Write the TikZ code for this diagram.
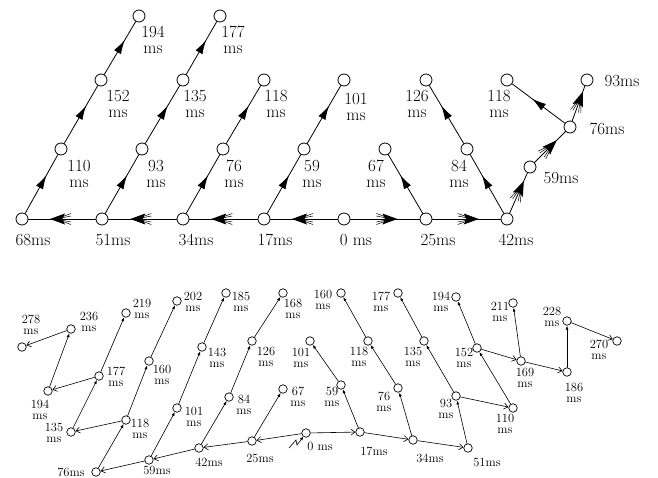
\documentclass[tikz,border=0pt]{standalone}
\usepackage{tikz}
\usetikzlibrary{arrows.meta,decorations.markings}

\begin{document}
\begin{tikzpicture}[x=1pt,y=-1pt,line cap=round,
 tnode/.style={circle,draw,line width=.8pt,minimum size=12pt,inner sep=0pt},
 bnode/.style={circle,draw,line width=.7pt,minimum size=8.5pt,inner sep=0pt},
 tlab/.style={font=\fontsize{17}{16.5}\selectfont,align=center,inner sep=0pt},
 blab/.style={font=\fontsize{12.5}{11}\selectfont,align=center,inner sep=0pt},
 one/.style={line width=.8pt,postaction=decorate,decoration={markings,
  mark=at position #1 with {\arrow{Latex[length=14pt,width=8pt]}}}},
 two/.style={line width=.8pt,postaction=decorate,decoration={markings,
  mark=at position #1 with {
   \draw[line width=.5pt] (-21pt,5.5pt) -- (-6pt,0pt) -- (-21pt,-5.5pt)
    (-21pt,3pt) -- (-6pt,0pt) -- (-21pt,-3pt);
   \fill (0pt,0pt) -- (-15pt,5.5pt) -- (-12.5pt,0pt) -- (-15pt,-5.5pt) -- cycle;}}},
 rise/.style={line width=.6pt,-{Latex[length=4pt,width=3pt]}},
 spread/.style={line width=.6pt,-{Straight Barb[length=4pt,width=6pt]}}]
\useasboundingbox (0,0) rectangle (658,477);

% upper diagram
\foreach \n/\x/\y in {0/344/219,17/264/219,34/183/219,51/102/219,68/22/219,
 25/426/219,42/507/219,110/61/149,152/101/80,194/139/16,93/142/149,135/183/80,
 177/220/16,76/223/149,118/264/80,59/304/149,101/344/80,67/385/149,84/467/149,
 126/426/80,r59/530/167,r76/570/127,r93/587/80,r118/507/80}
 \node[tnode] (t\n) at (\x,\y) {};

\foreach \n/\x in {68/33,51/113,34/196,17/275,25/438,42/516}
 \node[tlab] (l\n) at (\x,240) {\n ms};
\node[tlab] (l0) at (356,240) {0 ms};
\node[tlab] (lr59) at (561,178) {59ms};
\node[tlab] (lr76) at (607,129) {76ms};
\node[tlab] (lr93) at (622,81) {93ms};
\foreach \n/\k/\x/\y in {110/110/79/174,152/152/118/104,194/194/153/40,
 93/93/156/174,135/135/195/104,177/177/233/40,76/76/234/174,118/118/276/104,
 59/59/312/174,101/101/356/107,67/67/376/174,84/84/459/174,126/126/417/104,
 118/r118/499/104}
 \node[tlab] (l\k) at (\x,\y) {\n\\ms};

\foreach \a/\b in {0/17,17/34,34/51,51/68,0/25,25/42}
 \draw[two=.68] (t\a) -- (t\b);
\foreach \a/\b in {68/110,110/152,152/194,51/93,93/135,135/177,34/76,76/118,
 17/59,59/101,25/67,42/84,84/126}
 \draw[one=.65] (t\a) -- (t\b);
\draw[two=.8] (t42) -- (tr59);
\draw[two=.72] (tr59) -- (tr76);
\draw[two=.84] (tr76) -- (tr93);
\draw[one=.62] (tr76) -- (tr118);

% lower diagram
\foreach \n/\x/\y in {0/306/433,17/360/432,34/413/440,51/468/448,25/252/441,
 42/199/448,59/149/460,76/96/472,67/283/389,84/229/397,126/252/341,168/283/293,
 101/177/408,143/202/347,185/226/293,118/126/420,160/149/361,202/177/301,
 135/71/432,177/99/376,219/126/313,194/48/391,236/71/329,278/22/347}
 \node[bnode] (b\n) at (\x,\y) {};
\foreach \n/\x/\y in {59/341/385,101/310/341,76/398/388,118/368/341,160/341/293,
 93/456/396,135/424/341,177/398/293,110/513/408,152/477/348,194/456/297,
 169/521/361,211/513/303,186/567/372,228/567/321,270/617/341}
 \node[bnode] (c\n) at (\x,\y) {};

\node[blab] (mb0) at (320,446) {0 ms};
\foreach \n/\x/\y in {17/374/451,34/430/458,51/487/462,25/260/458,42/209/462,
 59/157/470,76/71/472}
 \node[blab] (mb\n) at (\x,\y) {\n ms};
\foreach \n/\x/\y in {67/298/397,84/244/405,126/266/357,168/293/309,101/194/417,
 143/217/358,185/241/302,118/140/429,160/162/375,202/193/302,135/54/433,
 177/116/377,219/142/309,194/40/410,236/89/322,278/31/325}
 \node[blab] (mb\n) at (\x,\y) {\n\\ms};
\foreach \n/\x/\y in {59/332/397,101/301/358,76/384/402,118/359/357,160/323/300,
 93/446/409,135/413/357,177/381/302,110/505/424,152/464/358,194/441/302,
 169/525/378,211/500/312,186/574/393,228/552/317,270/599/350}
 \node[blab] (mc\n) at (\x,\y) {\n\\ms};

\foreach \a/\b in {b0/b25,b25/b42,b42/b59,b59/b76,b0/b17,b17/b34,b34/b51,
 b118/b135,b177/b194,b236/b278,c93/c110,c152/c169,c169/c186,c228/c270}
 \draw[spread] (\a) -- (\b);
\foreach \a/\b in {b25/b67,b42/b84,b84/b126,b126/b168,b59/b101,b101/b143,
 b143/b185,b76/b118,b118/b160,b160/b202,b135/b177,b177/b219,b194/b236,
 b17/c59,c59/c101,b34/c76,c76/c118,c118/c160,b51/c93,c93/c135,c135/c177,
 c110/c152,c152/c194,c169/c211,c186/c228}
 \draw[rise] (\a) -- (\b);

\coordinate (kick) at (289,448);
\draw[line width=.6pt,-{Latex[length=3.5pt,width=3pt]}]
 (kick) -- ++(7,-8) -- ++(1,5) -- (b0);
\end{tikzpicture}
\end{document}
